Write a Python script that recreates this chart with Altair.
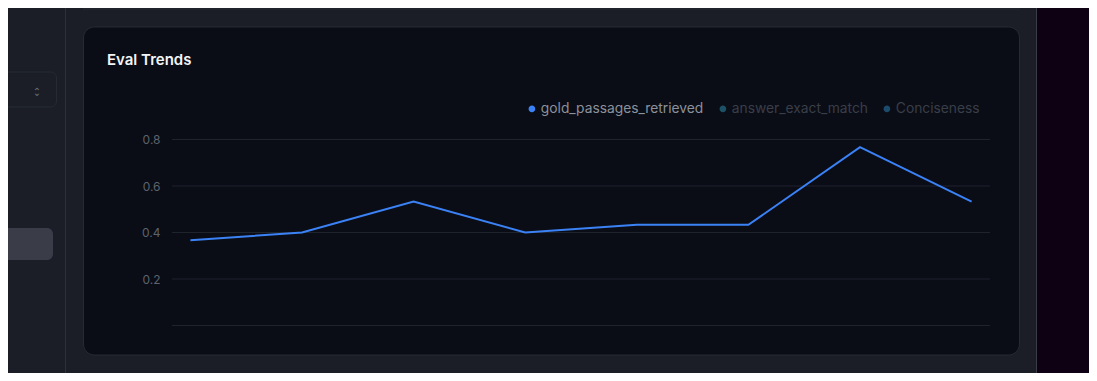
import altair as alt
import pandas as pd

# ---- data ----
series_names = ["gold_passages_retrieved", "answer_exact_match", "Conciseness"]
series_colors = ["#3b82f6", "#1b5266", "#1c4b6c"]
runs = [1, 2, 3, 4, 5, 6, 7, 8]
gold_values = [0.367, 0.400, 0.533, 0.400, 0.433, 0.433, 0.767, 0.533]
y_ticks = [0.0, 0.2, 0.4, 0.6, 0.8]

df = pd.DataFrame({"run": runs, "value": gold_values, "series": series_names[0]})
grid_df = pd.DataFrame({"tick": y_ticks})
one = pd.DataFrame({"a": [0]})

BG = "#1b1e27"
CARD = "#0a0d16"
BORDER = "#262a33"
FONT = "Inter"

W, H = 818, 186

y_scale = alt.Scale(domain=[0, 0.8], nice=False, zero=True)
x_scale = alt.Scale(type="point", padding=0.165)
y_axis = alt.Axis(values=y_ticks, format=".1f", grid=False, domain=False,
                  ticks=False, labelPadding=12, labelColor="#5d626c",
                  labelFont=FONT, labelFontSize=12, zindex=1,
                  labelExpr="datum.value == 0 ? '' : datum.label",
                  title=None)

# ---- decorative page elements (pixel offsets relative to plot origin) ----
right_strip = alt.Chart(one).mark_rect(color="#0e0114").encode(
    x=alt.value(864), x2=alt.value(930), y=alt.value(-140), y2=alt.value(240))
right_border = alt.Chart(one).mark_rule(color="#3a3d46", strokeWidth=1).encode(
    x=alt.value(864.5), y=alt.value(-140), y2=alt.value(240))
side_line = alt.Chart(one).mark_rule(color="#2e313b", strokeWidth=1).encode(
    x=alt.value(-106.5), y=alt.value(-140), y2=alt.value(240))
top_sep = alt.Chart(one).mark_rule(color=BORDER, strokeWidth=1).encode(
    x=alt.value(-89), x2=alt.value(848), y=alt.value(-130.5))
select_box = alt.Chart(one).mark_rect(
    fill=BG, stroke="#272a33", strokeWidth=1, cornerRadius=6).encode(
    x=alt.value(-190), x2=alt.value(-115.5), y=alt.value(-67.5), y2=alt.value(-32.5))
select_icon = alt.Chart(one).mark_text(
    text="⌃", color="#6b7079", fontSize=10, font="DejaVu Sans").encode(
    x=alt.value(-135), y=alt.value(-48))
select_icon2 = alt.Chart(one).mark_text(
    text="⌄", color="#6b7079", fontSize=10, font="DejaVu Sans").encode(
    x=alt.value(-135), y=alt.value(-47))
highlight = alt.Chart(one).mark_rect(fill="#3a3d47", cornerRadius=6).encode(
    x=alt.value(-190), x2=alt.value(-119), y=alt.value(88.5), y2=alt.value(120.5))
card = alt.Chart(one).mark_rect(
    fill=CARD, stroke=BORDER, strokeWidth=1, cornerRadius=11).encode(
    x=alt.value(-88.5), x2=alt.value(847.5), y=alt.value(-112.5), y2=alt.value(215.5))
title = alt.Chart(one).mark_text(
    text="Eval Trends", color="#f3f4f6", fontSize=15, fontWeight=600, font=FONT,
    align="left", baseline="middle").encode(x=alt.value(-65), y=alt.value(-79.5))

# ---- chart ----
grid = alt.Chart(grid_df).mark_rule(color="#1f232c", strokeWidth=1).encode(
    y=alt.Y("tick:Q", scale=y_scale, axis=y_axis))

line = alt.Chart(df).mark_line(strokeWidth=2).encode(
    x=alt.X("run:O", scale=x_scale, axis=None),
    y=alt.Y("value:Q", scale=y_scale, axis=y_axis),
    color=alt.Color("series:N",
                    scale=alt.Scale(domain=series_names, range=series_colors),
                    legend=alt.Legend(
                        orient="none", legendX=353, legendY=-38,
                        direction="horizontal", title=None,
                        symbolType="circle", symbolSize=12, symbolStrokeWidth=3.2,
                        labelFont=FONT, labelFontSize=13.8, labelOffset=2,
                        labelLimit=400, columnPadding=10,
                        labelColor=alt.ExprRef(
                            expr="datum.value == 'gold_passages_retrieved' ? '#8c919b' : '#393e48'"),
                        zindex=1)),
)

chart = alt.layer(
    right_strip, right_border, side_line, top_sep, select_box, select_icon,
    select_icon2, highlight, card, title, grid, line
).properties(
    width=W, height=H,
    background=BG,
    padding={"left": 164, "top": 131.5, "right": 99, "bottom": 47.5},
    autosize=alt.AutoSizeParams(type="none"),
).configure_view(strokeWidth=0)

chart.save("out.html", embed_options={"renderer": "svg", "actions": False})
